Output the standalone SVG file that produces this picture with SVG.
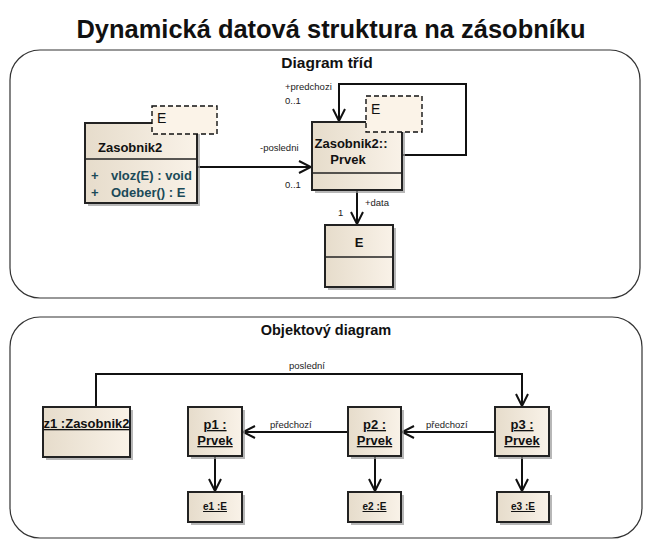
<svg xmlns="http://www.w3.org/2000/svg" width="653" height="547" viewBox="0 0 653 547">
<defs>
<linearGradient id="g" x1="0" y1="0" x2="1" y2="0">
<stop offset="0" stop-color="#e6dccb"/>
<stop offset="1" stop-color="#f9f2e8"/>
</linearGradient>
<marker id="open" viewBox="0 0 14 14" refX="13" refY="7" markerWidth="14" markerHeight="14" markerUnits="userSpaceOnUse" orient="auto">
<path d="M1,1 L13,7 L1,13" fill="none" stroke="#111" stroke-width="2"/>
</marker>
<style>
text{font-family:"Liberation Sans",Arial,sans-serif;fill:#111}
.frame{fill:#fff;stroke:#333;stroke-width:1.2}
.box{fill:url(#g);stroke:#222;stroke-width:2}
.sh{fill:#999;opacity:0.7}
.tpl{fill:#fbf3e8;stroke:#111;stroke-width:1.4;stroke-dasharray:5,3}
.div{stroke:#222;stroke-width:1.5}
.cn{fill:none;stroke:#111;stroke-width:2}
.nm{font-size:13px;font-weight:bold}
.te{font-size:14px;font-weight:normal}
.op{font-size:13px;font-weight:bold;fill:#1b4a58}
.lb{font-size:9.5px;fill:#222}
.ft{font-size:15.5px;font-weight:bold}
.ob{font-size:13px;font-weight:bold;text-decoration:underline}
.os{font-size:10px;font-weight:bold;text-decoration:underline}
</style>
</defs>
<text x="331" y="38" text-anchor="middle" font-size="26" font-weight="bold" textLength="509" lengthAdjust="spacingAndGlyphs">Dynamická datová struktura na zásobníku</text>

<g id="frame-classes">
<rect class="frame" x="10" y="50" width="630" height="248" rx="30" ry="30"/>
<text class="ft" x="327" y="68" text-anchor="middle">Diagram tříd</text>
</g>
<g id="frame-objects">
<rect class="frame" x="10" y="317" width="632" height="221" rx="30" ry="30"/>
<text class="ft" x="326" y="335" text-anchor="middle" style="font-size:14.5px">Objektový diagram</text>
</g>

<g id="connectors">
<path class="cn" d="M197,167 L311,167" marker-end="url(#open)"/>
<text class="lb" x="260" y="151">-posledni</text>
<text class="lb" x="285" y="188">0..1</text>
<path class="cn" d="M402,155 L466,155 L466,84 L339,84 L339,121" marker-end="url(#open)"/>
<text class="lb" x="285" y="90">+predchozi</text>
<text class="lb" x="285" y="104">0..1</text>
<path class="cn" d="M357,190 L357,224" marker-end="url(#open)"/>
<text class="lb" x="365" y="206">+data</text>
<text class="lb" x="338" y="216">1</text>

<path class="cn" d="M96,407 L96,374 L522,374 L522,406" marker-end="url(#open)"/>
<text class="lb" x="289" y="369">poslední</text>
<path class="cn" d="M348,432 L243,432" marker-end="url(#open)"/>
<text class="lb" x="270" y="428">předchozí</text>
<path class="cn" d="M495,432 L402,432" marker-end="url(#open)"/>
<text class="lb" x="426" y="428">předchozí</text>
<path class="cn" d="M215,456 L215,491" marker-end="url(#open)"/>
<path class="cn" d="M375,456 L375,491" marker-end="url(#open)"/>
<path class="cn" d="M522,456 L522,491" marker-end="url(#open)"/>
</g>

<g id="Zasobnik2">
<rect class="sh" x="88" y="126" width="112" height="80"/>
<rect class="box" x="85" y="123" width="112" height="80"/>
<line class="div" x1="85" y1="159" x2="197" y2="159"/>
<text class="nm" x="98" y="152">Zasobnik2</text>
<text class="op" x="91" y="180">+</text>
<text class="op" x="111" y="180">vloz(E) : void</text>
<text class="op" x="91" y="197">+</text>
<text class="op" x="111" y="197">Odeber() : E</text>
<rect class="tpl" x="152" y="106" width="65" height="28"/>
<text class="te" x="157" y="123">E</text>
</g>

<g id="Prvek">
<rect class="sh" x="315" y="125" width="90" height="68"/>
<rect class="box" x="312" y="122" width="90" height="68"/>
<line class="div" x1="312" y1="173" x2="402" y2="173"/>
<text class="nm" x="351" y="148" text-anchor="middle">Zasobnik2::</text>
<text class="nm" x="348" y="164" text-anchor="middle">Prvek</text>
<rect class="tpl" x="366" y="96" width="56" height="36"/>
<text class="te" x="371" y="114">E</text>
</g>

<g id="E">
<rect class="sh" x="328" y="228" width="68" height="62"/>
<rect class="box" x="325" y="225" width="68" height="62"/>
<line class="div" x1="325" y1="257" x2="393" y2="257"/>
<text class="nm" x="359" y="247" text-anchor="middle">E</text>
</g>

<g id="z1">
<rect class="sh" x="46" y="410" width="87" height="50"/>
<rect class="box" x="43" y="407" width="87" height="50"/>
<text class="ob" x="86.5" y="428" text-anchor="middle">z1 :Zasobnik2</text>
</g>

<g id="p1">
<rect class="sh" x="191" y="410" width="54" height="49"/>
<rect class="box" x="188" y="407" width="54" height="49"/>
<text class="ob" x="215" y="429" text-anchor="middle">p1 :</text>
<text class="ob" x="215" y="445" text-anchor="middle">Prvek</text>
</g>
<g id="p2">
<rect class="sh" x="351" y="410" width="53" height="49"/>
<rect class="box" x="348" y="407" width="53" height="49"/>
<text class="ob" x="374.5" y="429" text-anchor="middle">p2 :</text>
<text class="ob" x="374.5" y="445" text-anchor="middle">Prvek</text>
</g>
<g id="p3">
<rect class="sh" x="498" y="410" width="54" height="49"/>
<rect class="box" x="495" y="407" width="54" height="49"/>
<text class="ob" x="522" y="429" text-anchor="middle">p3 :</text>
<text class="ob" x="522" y="445" text-anchor="middle">Prvek</text>
</g>

<g id="e1">
<rect class="sh" x="191" y="495" width="54" height="30"/>
<rect class="box" x="188" y="492" width="54" height="30"/>
<text class="os" x="215" y="510" text-anchor="middle">e1 :E</text>
</g>
<g id="e2">
<rect class="sh" x="351" y="495" width="53" height="30"/>
<rect class="box" x="348" y="492" width="53" height="30"/>
<text class="os" x="374.5" y="510" text-anchor="middle">e2 :E</text>
</g>
<g id="e3">
<rect class="sh" x="500" y="495" width="52" height="30"/>
<rect class="box" x="497" y="492" width="52" height="30"/>
<text class="os" x="523" y="510" text-anchor="middle">e3 :E</text>
</g>
</svg>
